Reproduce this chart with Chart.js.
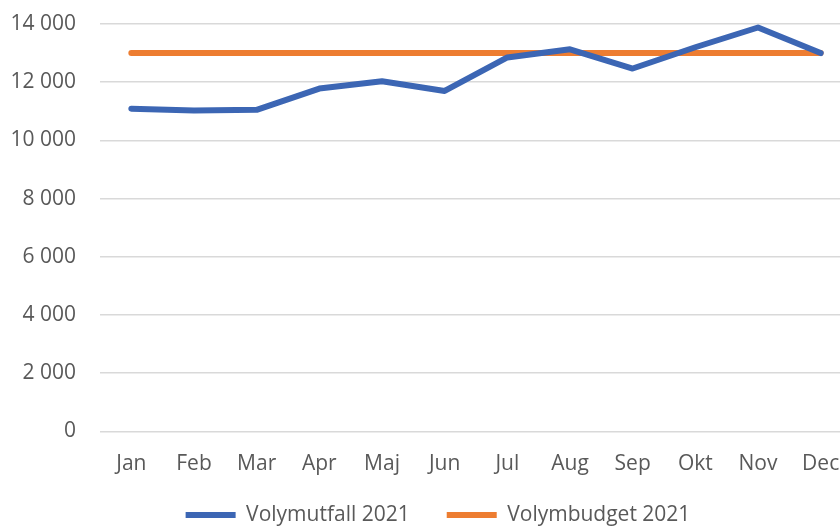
<!DOCTYPE html>
<html><head><meta charset="utf-8">
<script src="https://cdn.jsdelivr.net/npm/chart.js@4"></script>
<style>
html,body{margin:0;padding:0;overflow:hidden;background:#fff;width:840px;height:526px}
#wrap{position:relative;width:852px;height:526px}
canvas{display:block}
</style></head>
<body><div id="wrap"><canvas id="c" width="852" height="526"></canvas></div>
<script>
const months = ['Jan','Feb','Mar','Apr','Maj','Jun','Jul','Aug','Sep','Okt','Nov','Dec'];
const volymutfall2021 = [11090,11030,11050,11780,12030,11700,12850,13130,12470,13200,13880,13000];
const volymbudget2021 = [13000,13000,13000,13000,13000,13000,13000,13000,13000,13000,13000,13000];
const yMin = 0, yMax = 14000, yStep = 2000;

const FONT = "'Open Sans', sans-serif";
const TXT = '#595959';

const legendShift = {
  id: 'legendShift',
  afterLayout(chart) {
    const lg = chart.legend;
    if (lg) { lg.left += 12; lg.right += 12; lg.top -= 21; lg.height += 21; }
  }
};

new Chart(document.getElementById('c'), {
  type: 'line',
  data: {
    labels: months,
    datasets: [
      { label: 'Volymutfall 2021', data: volymutfall2021, borderColor: '#3c66b4', backgroundColor: '#3c66b4',
        borderWidth: 6, pointRadius: 0, tension: 0, borderCapStyle: 'round', borderJoinStyle: 'round' },
      { label: 'Volymbudget 2021', data: volymbudget2021, borderColor: '#ed7d31', backgroundColor: '#ed7d31',
        borderWidth: 6, pointRadius: 0, tension: 0, borderCapStyle: 'round', borderJoinStyle: 'round' }
    ]
  },
  options: {
    responsive: false,
    animation: false,
    devicePixelRatio: 1,
    layout: { padding: { top: 24, bottom: 0, left: 0, right: 0 } },
    plugins: {
      tooltip: { enabled: false },
      legend: {
        position: 'bottom',
        maxHeight: 37.5,
        labels: {
          usePointStyle: true, pointStyle: 'line', pointStyleWidth: 50,
          color: TXT, font: { family: FONT, size: 21 }, padding: 37
        }
      }
    },
    scales: {
      x: {
        offset: true,
        grid: { display: false },
        border: { display: false },
        ticks: { color: TXT, font: { family: FONT, size: 21 }, padding: 12, maxRotation: 0, autoSkip: false },
        afterFit: s => { s.paddingLeft = 0; s.paddingRight = 0; }
      },
      y: {
        min: yMin, max: yMax,
        grid: { color: '#d9d9d9', lineWidth: 1.5, drawTicks: false },
        border: { display: false },
        ticks: { stepSize: yStep, color: TXT, font: { family: FONT, size: 21 }, padding: 24,
          callback: v => String(v).replace(/\B(?=(\d{3})+(?!\d))/g, ' ') },
        afterFit: s => { s.width = 100; s.paddingTop = 0; s.paddingBottom = 0; }
      }
    }
  },
  plugins: [legendShift]
});
</script></body></html>
